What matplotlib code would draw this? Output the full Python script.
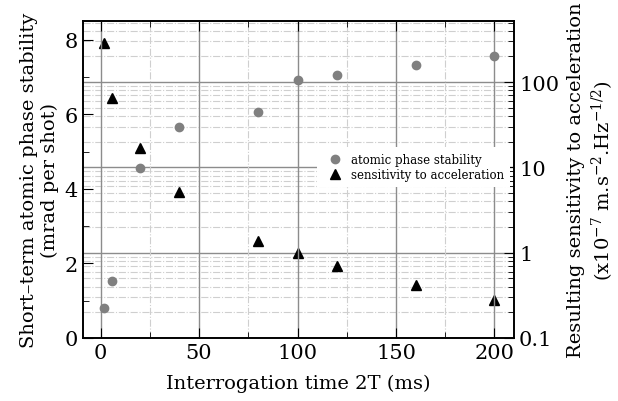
import numpy as np
import matplotlib
matplotlib.use("Agg")
import matplotlib.pyplot as plt
from matplotlib.ticker import MultipleLocator, LogLocator

plt.rcParams['font.family'] = ['DejaVu Serif']
plt.rcParams['mathtext.fontset'] = 'dejavuserif'

time_ms = [2, 6, 20, 40, 80, 100, 120, 160, 200]
phase_stability = [0.81, 1.53, 4.56, 5.66, 6.05, 6.93, 7.06, 7.33, 7.57]
sensitivity = [290, 65, 17.0, 5.2, 1.38, 1.0, 0.70, 0.42, 0.28]

fig = plt.figure(figsize=(6.18, 4.02), dpi=100)
ax = fig.add_axes([0.134, 0.157, 0.698, 0.788])
ax2 = ax.twinx()

# log axis in the back, linear axis on top
ax.set_zorder(ax2.get_zorder() + 1)
ax.patch.set_visible(False)

ax2.plot(time_ms, sensitivity, linestyle="none", marker="^", markersize=6.5,
         color="black", label="sensitivity to acceleration")
ax2.set_yscale("log")
ax2.set_ylim(0.1, 520)
ax2.yaxis.set_major_locator(LogLocator(base=10))
ax2.yaxis.set_minor_locator(LogLocator(base=10, subs=np.arange(2, 10)))
ax2.yaxis.set_major_formatter(matplotlib.ticker.FuncFormatter(lambda v, p: "%g" % v))
ax2.yaxis.set_minor_formatter(matplotlib.ticker.NullFormatter())
ax2.grid(True, which="major", axis="y", color="#8c8c8c", linestyle="-", linewidth=1.0)
ax2.grid(True, which="minor", axis="y", color="#cfcfcf", linestyle="-.", linewidth=0.8)
ax2.tick_params(axis="y", which="major", direction="in", length=7, labelsize=15)
ax2.tick_params(axis="y", which="minor", direction="in", length=4)
ax2.set_ylabel("Resulting sensitivity to acceleration\n(x10$^{-7}$ m.s$^{-2}$.Hz$^{-1/2}$)",
               fontsize=14, labelpad=6)

ax.plot(time_ms, phase_stability, linestyle="none", marker="o", markersize=6,
        color="#808080", label="atomic phase stability")
ax.set_xlim(-9, 210)
ax.set_ylim(0, 8.5)
ax.xaxis.set_major_locator(MultipleLocator(50))
ax.xaxis.set_minor_locator(MultipleLocator(25))
ax.yaxis.set_major_locator(MultipleLocator(2))
ax.yaxis.set_minor_locator(MultipleLocator(1))
ax.grid(True, which="major", axis="x", color="#8c8c8c", linestyle="-", linewidth=1.0)
ax.grid(True, which="minor", axis="x", color="#cfcfcf", linestyle="-.", linewidth=0.8)
ax.tick_params(which="major", direction="in", length=7, labelsize=15, top=True)
ax.tick_params(which="minor", direction="in", length=4, top=True)
ax.set_xlabel("Interrogation time 2T (ms)", fontsize=14, labelpad=9)
ax.set_ylabel("Short\u2013term atomic phase stability\n(mrad per shot)", fontsize=14)

for a in (ax, ax2):
    for s in a.spines.values():
        s.set_linewidth(1.2)

h1, l1 = ax.get_legend_handles_labels()
h2, l2 = ax2.get_legend_handles_labels()
leg = ax.legend(h1 + h2, l1 + l2, loc="center", bbox_to_anchor=(0.767, 0.54),
                fontsize=8.5, frameon=True, fancybox=False, framealpha=1,
                edgecolor="none", handletextpad=0.4, borderpad=0.5, labelspacing=0.2)

fig.savefig("out.png", dpi=100)
